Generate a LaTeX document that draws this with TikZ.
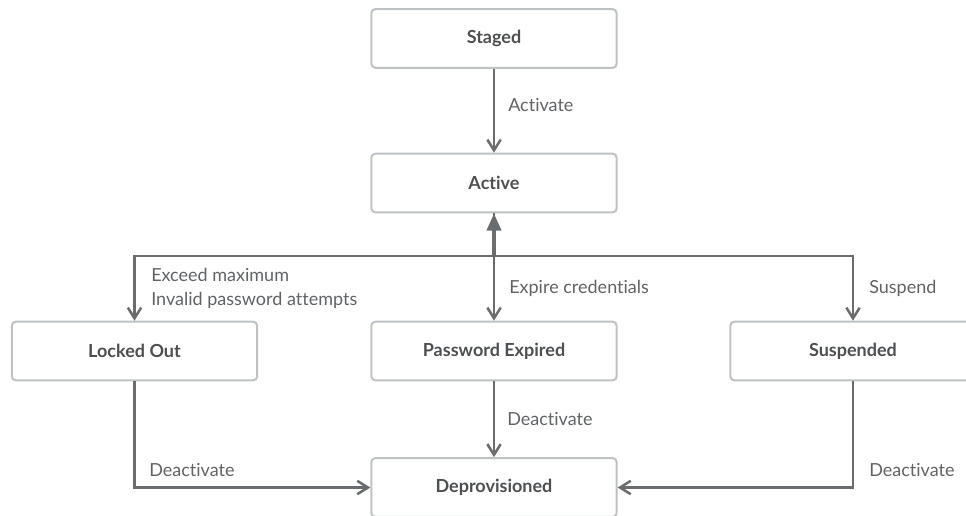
\documentclass[tikz,border=0pt]{standalone}
\usepackage{fontspec}
\setmainfont{Lato}[Ligatures = NoCommon]
\usetikzlibrary{arrows.meta}
\definecolor{boxEdge}{HTML}{BEC2C4}
\definecolor{lineGray}{HTML}{6A6D70}
\definecolor{textGray}{HTML}{4D5052}
\definecolor{labelGray}{HTML}{606366}

\begin{document}
\begin{tikzpicture}[x = 0.75pt, y = -0.75pt]
	\tikzstyle{stateStyle} = [shape = rectangle, rounded corners = 3pt, draw = boxEdge, line width = 1.5pt, fill = white, minimum width = 184pt, minimum height = 44pt, text = textGray, font = \fontsize{13.5}{16}\selectfont\bfseries]
	\tikzstyle{labelStyle} = [anchor = west, inner sep = 0pt, text = labelGray, font = \fontsize{13.5}{18}\selectfont, align = left]
	\tikzstyle{flowStyle} = [draw = lineGray, line width = 1.9pt, -{Straight Barb[length = 8pt, width = 10pt]}]
	\tikzstyle{returnStyle} = [draw = lineGray, line width = 3pt, -{Triangle[length = 13pt, width = 10.5pt]}]
	\useasboundingbox (0,0) rectangle (966,515);
	\node[stateStyle] (staged) at (494, 38.5) {Staged};
	\node[stateStyle] (active) at (494, 183) {Active};
	\node[stateStyle] (lockedOut) at (134.5, 351) {Locked Out};
	\node[stateStyle] (pwExpired) at (494, 351) {Password Expired};
	\node[stateStyle] (suspended) at (853, 351) {Suspended};
	\node[stateStyle] (deprov) at (494, 487.5) {Deprovisioned};
	\coordinate (split) at (494, 256);
	\draw[flowStyle] (staged) -- (active);
	\draw[flowStyle] (active) -- (pwExpired);
	\draw[returnStyle] (split) -- (active.south);
	\draw[flowStyle] (split) -| (lockedOut);
	\draw[flowStyle] (split) -| (suspended);
	\draw[flowStyle] (pwExpired) -- (deprov);
	\draw[flowStyle] (lockedOut) |- (deprov);
	\draw[flowStyle] (suspended) |- (deprov);
	\node[labelStyle] (lActivate) at (508, 105) {Activate};
	\node[labelStyle] (lExceed) at (151, 288) {Exceed maximum\\Invalid password attempts};
	\node[labelStyle] (lExpire) at (509, 288) {Expire credentials};
	\node[labelStyle] (lSuspend) at (869, 288) {Suspend};
	\node[labelStyle] (lDeactMid) at (507, 419) {Deactivate};
	\node[labelStyle] (lDeactLeft) at (149, 470) {Deactivate};
	\node[labelStyle] (lDeactRight) at (869, 470) {Deactivate};
\end{tikzpicture}
\end{document}
